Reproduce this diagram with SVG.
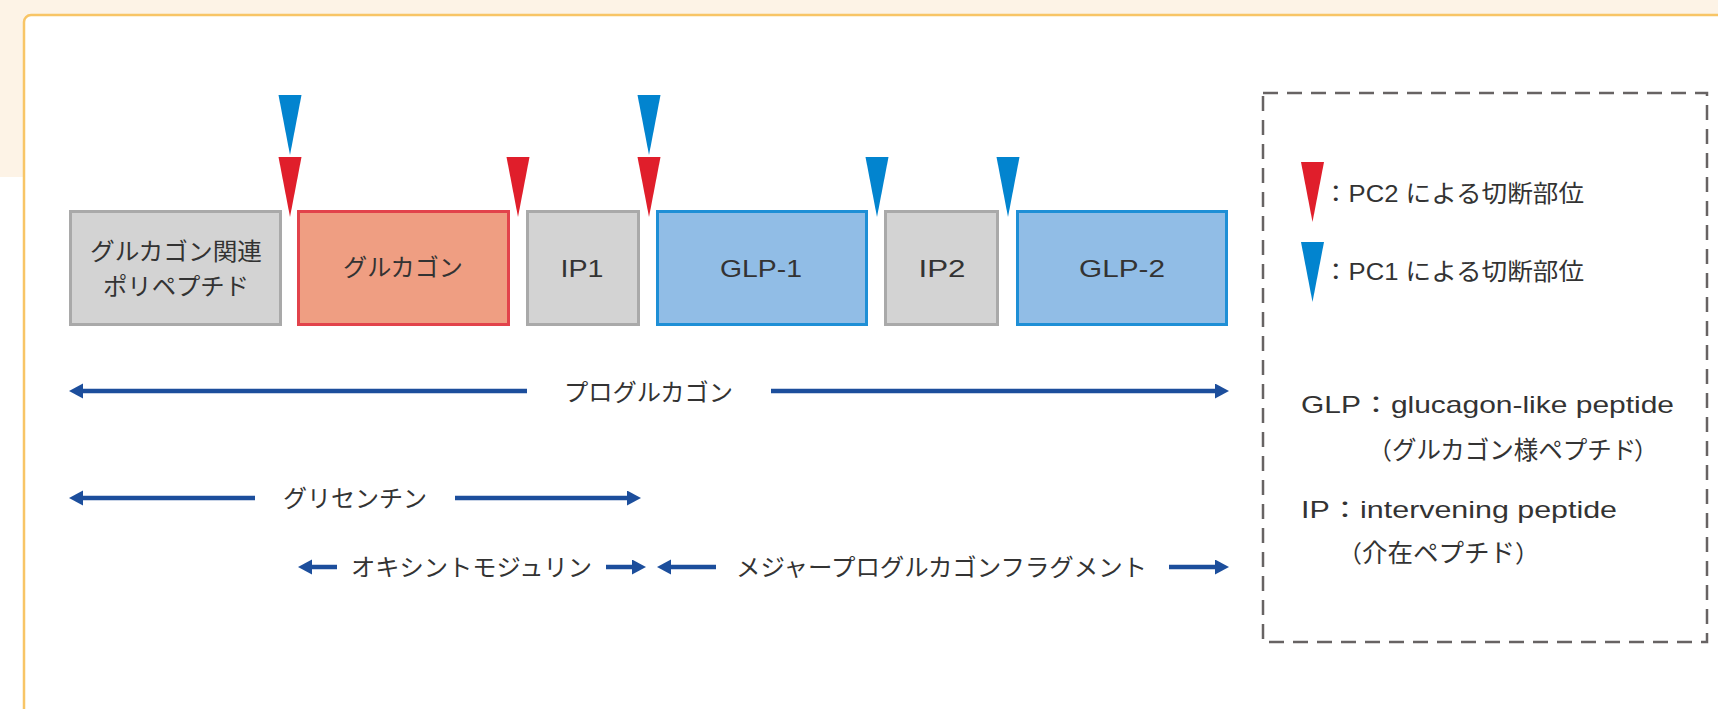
<svg xmlns="http://www.w3.org/2000/svg" width="1718" height="709" viewBox="0 0 1718 709">
<style>
  text { font-family: "Liberation Sans", "Noto Sans CJK JP", sans-serif; font-size: 24px; fill: #333333; }
  .c { text-anchor: middle; }
  .gray { fill: #d3d3d3; stroke: #a9a9a9; stroke-width: 3; }
  .red { fill: #ef9e82; stroke: #e2434b; stroke-width: 3; }
  .blue { fill: #91bde6; stroke: #1e8fd6; stroke-width: 3; }
  .arr { stroke: #1c4e9c; stroke-width: 4.5; fill: none; marker-end: url(#ah); }
  .pc2 { fill: #e01e2b; }
  .pc1 { fill: #0284cf; }
</style>
<defs>
  <marker id="ah" markerUnits="userSpaceOnUse" markerWidth="16" markerHeight="16" viewBox="0 0 16 16" refX="2" refY="7.5" orient="auto">
    <path d="M0,0 L14,7.5 L0,15 z" fill="#1c4e9c"/>
  </marker>
  <path id="tri" d="M-11.5,0 L11.5,0 L0,60 z"/>
</defs>

<rect x="0" y="0" width="1718" height="177" fill="#fdf3e6"/>
<rect x="24" y="15" width="1760" height="760" rx="7" fill="#ffffff" stroke="#f8c566" stroke-width="2.5"/>

<g id="node-gcrp">
  <rect class="gray" x="70.5" y="211.5" width="210" height="113"/>
  <text class="c" x="176" y="260" textLength="172" lengthAdjust="spacingAndGlyphs">グルカゴン関連</text>
  <text class="c" x="176" y="295" textLength="146" lengthAdjust="spacingAndGlyphs">ポリペプチド</text>
</g>
<g id="node-glucagon">
  <rect class="red" x="298.5" y="211.5" width="210" height="113"/>
  <text class="c" x="403" y="276" textLength="120" lengthAdjust="spacingAndGlyphs">グルカゴン</text>
</g>
<g id="node-ip1">
  <rect class="gray" x="527.5" y="211.5" width="111" height="113"/>
  <text class="c" x="582" y="277" textLength="43" lengthAdjust="spacingAndGlyphs">IP1</text>
</g>
<g id="node-glp1">
  <rect class="blue" x="657.5" y="211.5" width="209" height="113"/>
  <text class="c" x="761" y="277" textLength="82" lengthAdjust="spacingAndGlyphs">GLP-1</text>
</g>
<g id="node-ip2">
  <rect class="gray" x="885.5" y="211.5" width="112" height="113"/>
  <text class="c" x="942" y="277" textLength="47" lengthAdjust="spacingAndGlyphs">IP2</text>
</g>
<g id="node-glp2">
  <rect class="blue" x="1017.5" y="211.5" width="209" height="113"/>
  <text class="c" x="1122" y="277" textLength="86" lengthAdjust="spacingAndGlyphs">GLP-2</text>
</g>

<g id="cleavage-sites">
  <use href="#tri" class="pc1" x="290" y="95"/>
  <use href="#tri" class="pc2" x="290" y="157"/>
  <use href="#tri" class="pc2" x="518" y="157"/>
  <use href="#tri" class="pc1" x="649" y="95"/>
  <use href="#tri" class="pc2" x="649" y="157"/>
  <use href="#tri" class="pc1" x="877" y="157"/>
  <use href="#tri" class="pc1" x="1008" y="157"/>
</g>

<g id="connectors">
  <line class="arr" x1="527" y1="391" x2="81" y2="391"/>
  <line class="arr" x1="771" y1="391" x2="1217" y2="391"/>
  <line class="arr" x1="255" y1="498" x2="81" y2="498"/>
  <line class="arr" x1="455" y1="498" x2="629" y2="498"/>
  <line class="arr" x1="337" y1="567" x2="310" y2="567"/>
  <line class="arr" x1="606" y1="567" x2="634" y2="567"/>
  <line class="arr" x1="716" y1="567" x2="669" y2="567"/>
  <line class="arr" x1="1169" y1="567" x2="1217" y2="567"/>
</g>

<g id="labels">
  <text class="c" x="648.5" y="401" textLength="169" lengthAdjust="spacingAndGlyphs">プログルカゴン</text>
  <text class="c" x="355" y="507" textLength="144" lengthAdjust="spacingAndGlyphs">グリセンチン</text>
  <text class="c" x="471.5" y="576" textLength="241" lengthAdjust="spacingAndGlyphs">オキシントモジュリン</text>
  <text class="c" x="941.5" y="576" textLength="411" lengthAdjust="spacingAndGlyphs">メジャープログルカゴンフラグメント</text>
</g>

<g id="legend">
  <rect x="1263" y="93" width="444" height="549" fill="none" stroke="#676363" stroke-width="2.5" stroke-dasharray="15 9"/>
  <use href="#tri" class="pc2" x="1312.5" y="162"/>
  <text x="1323" y="202" textLength="261" lengthAdjust="spacingAndGlyphs">：PC2 による切断部位</text>
  <use href="#tri" class="pc1" x="1312.5" y="242"/>
  <text x="1323" y="280" textLength="261" lengthAdjust="spacingAndGlyphs">：PC1 による切断部位</text>
  <text x="1301" y="413" textLength="373" lengthAdjust="spacingAndGlyphs">GLP：glucagon-like peptide</text>
  <text y="459"><tspan x="1368">（</tspan><tspan x="1392" style="font-size:24.5px">グルカゴン様ペプチド</tspan><tspan x="1634">）</tspan></text>
  <text x="1301" y="518" textLength="316" lengthAdjust="spacingAndGlyphs">IP：intervening peptide</text>
  <text y="562"><tspan x="1338">（</tspan><tspan x="1362" style="font-size:25.5px">介在ペプチド</tspan><tspan x="1515">）</tspan></text>
</g>
</svg>
